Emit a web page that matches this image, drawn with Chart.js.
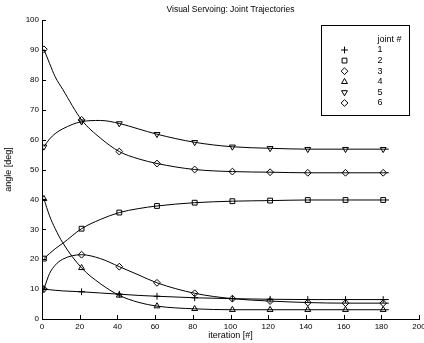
<!DOCTYPE html>
<html>
<head>
<meta charset="utf-8">
<script src="https://cdn.jsdelivr.net/npm/chart.js@4.4.0/dist/chart.umd.min.js"></script>
<style>
  html, body { margin: 0; padding: 0; background: #fff; }
</style>
</head>
<body>
<canvas id="chart" width="424" height="343"></canvas>
<script>
// Iterations where values were read (markers sit at 1, 21, 41, ...)
const iters  = [1, 4, 7, 11, 21, 31, 41, 51, 61, 81, 101, 121, 141, 161, 181, 184];
const joint1 = [10.0, 9.8, 9.6, 9.4, 9.1, 8.7, 8.3, 7.9, 7.6, 7.1, 6.8, 6.6, 6.5, 6.5, 6.5, 6.5];
const joint2 = [20.2, 21.9, 23.5, 25.3, 30.2, 33.3, 35.6, 36.9, 37.8, 38.9, 39.4, 39.6, 39.8, 39.8, 39.8, 39.8];
const joint3 = [10.0, 15.2, 18.0, 20.0, 21.5, 20.2, 17.5, 14.8, 12.1, 8.6, 6.8, 6.0, 5.5, 5.3, 5.3, 5.3];
const joint4 = [40.2, 34.5, 30.2, 25.5, 17.1, 11.8, 7.9, 5.6, 4.3, 3.4, 3.1, 3.1, 3.1, 3.1, 3.1, 3.1];
const joint5 = [57.6, 60.2, 62.0, 63.6, 66.0, 66.4, 65.4, 63.6, 61.8, 59.1, 57.6, 57.1, 56.8, 56.8, 56.8, 56.8];
const joint6 = [90.2, 85.5, 81.0, 76.8, 66.6, 60.5, 56.0, 53.6, 52.0, 50.0, 49.3, 49.1, 48.9, 48.9, 48.9, 48.9];
const jointLabels = ['1', '2', '3', '4', '5', '6'];

const allJoints = [joint1, joint2, joint3, joint4, joint5, joint6];
const markerStyles = [
  { style: 'cross', rot: 0 },
  { style: 'rect', rot: 0 },
  { style: 'rectRot', rot: 0 },
  { style: 'triangle', rot: 0 },
  { style: 'triangle', rot: 180 },
  { style: 'rectRot', rot: 0 }
];
const FONT = 'Liberation Sans, Arial, Helvetica, sans-serif';
const MARK_R = 3.4;

// title centred over the axes, not the whole canvas
const axesTitle = {
  id: 'axesTitle',
  afterDraw(chart) {
    const { ctx, chartArea: a } = chart;
    ctx.save();
    ctx.fillStyle = '#000';
    ctx.font = '8.5px ' + FONT;
    ctx.textAlign = 'center';
    ctx.textBaseline = 'middle';
    ctx.fillText('Visual Servoing: Joint Trajectories', (a.left + a.right) / 2, 10);
    ctx.restore();
  }
};

// MATLAB style ticks pointing into the plot
const innerTicks = {
  id: 'innerTicks',
  afterDraw(chart) {
    const { ctx, chartArea: a, scales: { x, y } } = chart;
    ctx.save();
    ctx.strokeStyle = '#000';
    ctx.lineWidth = 1;
    ctx.beginPath();
    x.ticks.forEach(t => {
      const px = Math.round(x.getPixelForValue(t.value)) + 0.5;
      ctx.moveTo(px, a.bottom);
      ctx.lineTo(px, a.bottom - 4);
    });
    y.ticks.forEach(t => {
      const py = Math.round(y.getPixelForValue(t.value)) + 0.5;
      ctx.moveTo(a.left, py);
      ctx.lineTo(a.left + 4, py);
    });
    ctx.stroke();
    ctx.restore();
  }
};

// Boxed legend in the top right corner
const jointLegend = {
  id: 'jointLegend',
  afterDraw(chart) {
    const { ctx, chartArea: a } = chart;
    const w = 88, h = 90;
    const x0 = Math.round(a.right - 10 - w) + 0.5;
    const y0 = Math.round(a.top + 5) + 0.5;
    ctx.save();
    ctx.fillStyle = '#fff';
    ctx.fillRect(x0, y0, w, h);
    ctx.strokeStyle = '#000';
    ctx.lineWidth = 1;
    ctx.strokeRect(x0, y0, w, h);
    ctx.font = '9px ' + FONT;
    ctx.textAlign = 'left';
    ctx.textBaseline = 'middle';
    ctx.fillStyle = '#000';
    ctx.fillText('joint #', x0 + 56, y0 + 14);
    jointLabels.forEach((lab, i) => {
      const ry = y0 + 24.5 + i * 10.6;
      ctx.fillStyle = '#000';
      ctx.fillText(lab, x0 + 56, ry);
      ctx.fillStyle = 'rgba(0,0,0,0)';
      ctx.strokeStyle = '#000';
      ctx.lineWidth = 1;
      Chart.helpers.drawPoint(ctx, {
        pointStyle: markerStyles[i].style,
        rotation: markerStyles[i].rot,
        radius: MARK_R,
        borderWidth: 1
      }, x0 + 23, ry);
    });
    ctx.restore();
  }
};

const datasets = allJoints.map((vals, i) => ({
  label: 'joint ' + jointLabels[i],
  data: iters.map((it, k) => ({ x: it, y: vals[k] })),
  borderColor: '#000',
  borderWidth: 1,
  cubicInterpolationMode: 'monotone',
  pointStyle: markerStyles[i].style,
  pointRotation: markerStyles[i].rot,
  pointRadius: c => (c.raw && c.raw.x % 20 === 1) ? MARK_R : 0,
  pointBorderColor: '#000',
  pointBackgroundColor: 'rgba(0,0,0,0)',
  pointBorderWidth: 1
}));

new Chart(document.getElementById('chart'), {
  type: 'line',
  data: { datasets },
  plugins: [axesTitle, innerTicks, jointLegend],
  options: {
    responsive: false,
    animation: false,
    events: [],
    layout: { padding: { left: 0, right: 2, top: 20, bottom: 0 } },
    plugins: {
      legend: { display: false },
      tooltip: { enabled: false },
      title: { display: false }
    },
    scales: {
      x: {
        type: 'linear',
        min: 0,
        max: 200,
        ticks: { stepSize: 20, color: '#000', padding: 3, font: { family: FONT, size: 8 } },
        grid: { display: false, drawTicks: false },
        border: { display: true, color: '#000', width: 1 },
        title: {
          display: true, text: 'iteration [#]', color: '#000',
          font: { family: FONT, size: 9 }, padding: { top: 0, bottom: 2 }
        },
        // let the last label run off the edge like the original
        afterFit: s => { s.height = 24; s.paddingLeft = 0; s.paddingRight = 0; }
      },
      y: {
        min: 0,
        max: 100,
        ticks: { stepSize: 10, color: '#000', padding: 3, font: { family: FONT, size: 8 } },
        grid: { display: false, drawTicks: false },
        border: { display: true, color: '#000', width: 1 },
        title: {
          display: true, text: 'angle [deg]', color: '#000',
          font: { family: FONT, size: 9 }, padding: { top: 3, bottom: 0 }
        },
        afterFit: s => { s.width = 42; s.paddingTop = 0; s.paddingBottom = 0; }
      }
    }
  }
});
</script>
</body>
</html>
